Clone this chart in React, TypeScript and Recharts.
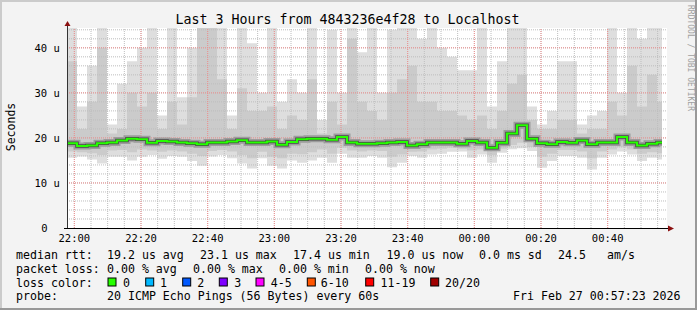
import React from 'react';
import { ComposedChart, Area, Line, XAxis, YAxis, ReferenceLine, CartesianGrid } from 'recharts';

// one value per 3 minute slot, starting 21:57:48
const slotMinutes = 3;

const median = [
  18.8, 18.2, 18.3, 18.8, 19.0, 19.4, 19.8, 19.7, 18.9, 19.3,
  19.2, 19.0, 18.8, 18.6, 19.0, 19.0, 19.2, 19.5, 19.0, 19.0,
  19.2, 18.5, 19.1, 19.7, 19.8, 19.8, 19.6, 20.2, 19.0, 18.7,
  18.7, 18.8, 19.0, 19.1, 18.3, 18.6, 19.0, 19.0, 19.0, 18.7,
  19.3, 19.0, 17.8, 18.9, 21.0, 22.8, 19.8, 18.8, 18.6, 19.1,
  18.9, 19.4, 18.6, 19.0, 19.0, 20.2, 19.0, 18.3, 18.7, 19.0,
];

// light smoke top (highest ping), values above 44.4 are clipped
const smokeMax = [
  48, 27, 36, 48, 23, 32, 37, 40, 48, 25,
  48, 29, 40, 48, 48, 48, 25, 48, 41, 30,
  48, 28, 33, 30, 48, 24, 44, 30, 48, 39,
  46, 30, 44, 48, 48, 42, 48, 40, 38, 35,
  35, 48, 27, 37, 48, 48, 27, 23, 26, 37,
  37, 23, 25, 26, 48, 30, 48, 42, 48, 48,
];

// medium smoke top
const smokeMid = [
  37, 22, 28, 40, 21, 22, 30, 27, 30, 22,
  28, 23, 29, 46, 46, 33, 22, 31, 26, 26,
  27, 22, 25, 24, 33, 21, 28, 23, 42, 28,
  26, 24, 30, 33, 36, 28, 28, 26, 26, 25,
  24, 25, 22, 26, 32, 34, 24, 22, 22, 24,
  24, 21, 22, 22, 28, 25, 36, 27, 34, 28,
];

// medium smoke bottom
const smokeMidLow = [
  17.0, 16.8, 16.6, 16.2, 17.2, 17.3, 16.8, 17.4, 17.2, 16.9,
  17.2, 17.0, 16.5, 16.0, 17.1, 17.3, 17.0, 16.2, 15.5, 16.9,
  15.8, 15.5, 16.5, 16.4, 16.8, 17.4, 16.5, 17.8, 17.2, 17.0,
  17.2, 17.1, 15.8, 16.3, 16.9, 17.0, 17.4, 17.6, 17.8, 17.6,
  17.2, 17.4, 16.2, 17.6, 18.4, 18.9, 18.0, 15.8, 16.5, 17.3,
  17.3, 17.0, 15.5, 17.0, 17.4, 17.9, 17.4, 16.5, 16.8, 16.6,
];

// light smoke bottom (lowest ping)
const smokeLow = [
  15.6, 15.9, 15.2, 14.3, 15.8, 15.8, 15.0, 15.8, 16.2, 15.4,
  16.0, 15.8, 14.9, 13.8, 15.9, 16.2, 15.5, 14.3, 13.2, 15.5,
  13.8, 13.2, 15.0, 14.5, 15.0, 15.6, 14.5, 16.5, 15.6, 15.6,
  16.0, 15.6, 13.5, 14.5, 16.0, 15.6, 16.3, 16.5, 16.9, 17.0,
  15.6, 16.3, 14.5, 16.7, 17.5, 17.7, 17.1, 13.4, 14.9, 16.0,
  16.0, 15.6, 13.0, 15.6, 16.3, 17.0, 16.3, 14.9, 15.6, 15.2,
];

const xTickMinutes = [2.2, 22.2, 42.2, 62.2, 82.2, 102.2, 122.2, 142.2, 162.2];
const xTickLabels = ['22:00', '22:20', '22:40', '23:00', '23:20', '23:40', '00:00', '00:20', '00:40'];
const yTicks = [0, 10, 20, 30, 40];

const lossLabels = ['0', '1', '2', '3', '4-5', '6-10', '11-19', '20/20'];
const lossColors = ['#26ff00', '#00b8ff', '#0059ff', '#7e00ff', '#ff00ff', '#ff5500', '#ff0000', '#a00000'];

const rows = median.map((m, i) => ({
  t: i * slotMinutes,
  med: m,
  light: [smokeLow[i], smokeMax[i]],
  mid: [smokeMidLow[i], smokeMid[i]],
}));
// close the last step where the data ends
const last = rows[rows.length - 1];
rows.push({ ...last, t: 178.5 });

const minorX: number[] = [];
for (let t = 2.2; t < 180; t += 5) minorX.push(t);
const minorY: number[] = [];
for (let v = 2; v < 44.4; v += 2) minorY.push(v);
const majorY = [10, 20, 30, 40];

const mono = '"DejaVu Sans Mono", monospace';

const XTick = (props: any) => {
  const idx = xTickMinutes.indexOf(props.payload.value);
  return (
    <text x={props.x} y={238} dominantBaseline="central" textAnchor="middle" fontSize={10.5} fontFamily={mono} fill="#000">
      {xTickLabels[idx]}
    </text>
  );
};

const YTick = (props: any) => {
  const v = props.payload.value;
  return (
    <text x={v === 0 ? 47.5 : 59.8} y={props.y} dominantBaseline="central" textAnchor="end" fontSize={10.5} fontFamily={mono} fill="#000">
      {v === 0 ? '0' : `${v} u`}
    </text>
  );
};

const legendLines = [
  { y: 255, items: [[16, 'median rtt:'], [107, '19.2 us avg'], [200, '23.1 us max'], [293, '17.4 us min'], [386.5, '19.0 us now'], [479, '0.0 ms sd'], [558, '24.5'], [607, 'am/s']] },
  { y: 268.5, items: [[16, 'packet loss:'], [107, '0.00 % avg'], [193, '0.00 % max'], [279, '0.00 % min'], [365, '0.00 % now']] },
  { y: 282.5, items: [[16, 'loss color:']] },
  { y: 296, items: [[16, 'probe:'], [107, '20 ICMP Echo Pings (56 Bytes) every 60s'], [513, 'Fri Feb 27 00:57:23 2026']] },
];
const boxX = [108, 145.7, 182.7, 219.3, 256, 307.3, 365.7, 430.7];
const labelX = [123, 160, 197.3, 234.3, 270.7, 320.7, 380.5, 445];

export default function App() {
  return (
    <div style={{ position: 'relative', width: 697, height: 310, background: '#f3f3f3' }}>
      <style>{'body{margin:0}'}</style>
      <ComposedChart
        width={697}
        height={310}
        data={rows}
        margin={{ top: 28, right: 30, bottom: 52, left: 0 }}
        style={{ position: 'absolute', left: 0, top: 0 }}
      >
        <CartesianGrid fill="#ffffff" horizontal={false} vertical={false} />
        <XAxis type="number" dataKey="t" domain={[0, 180]} ticks={xTickMinutes} interval={0} height={30} axisLine={false} tickLine={false} tick={XTick} />
        <YAxis type="number" domain={[0, 44.4]} allowDataOverflow ticks={yTicks} width={67} axisLine={false} tickLine={false} tick={YTick} />
        <Area type="stepAfter" dataKey="light" stroke="none" fill="#dedede" fillOpacity={1} isAnimationActive={false} />
        <Area type="stepAfter" dataKey="mid" stroke="none" fill="#cbcbcb" fillOpacity={1} isAnimationActive={false} />
        {minorX.map((t) => (
          <ReferenceLine key={'mx' + t} x={t} stroke="#bdbdbd" strokeDasharray="1 1" />
        ))}
        {minorY.map((v) => (
          <ReferenceLine key={'my' + v} y={v} stroke="#bdbdbd" strokeDasharray="1 1" />
        ))}
        {xTickMinutes.map((t) => (
          <ReferenceLine key={'MX' + t} x={t} stroke="#ef8f8f" strokeDasharray="1 1" />
        ))}
        {majorY.map((v) => (
          <ReferenceLine key={'MY' + v} y={v} stroke="#ef8f8f" strokeDasharray="1 1" />
        ))}
        <Line type="stepAfter" dataKey="med" stroke="#9c9c9c" strokeWidth={7} dot={false} isAnimationActive={false} />
        <Line type="stepAfter" dataKey="med" stroke="#474747" strokeWidth={3.5} dot={false} isAnimationActive={false} />
        <Line type="stepAfter" dataKey="med" stroke="#26ff00" strokeWidth={2} dot={false} isAnimationActive={false} />
      </ComposedChart>
      <svg width={697} height={310} style={{ position: 'absolute', left: 0, top: 0, pointerEvents: 'none' }}>
        <line x1={0} y1={1} x2={697} y2={1} stroke="#cbcbcb" strokeWidth={2} />
        <line x1={1} y1={0} x2={1} y2={310} stroke="#cbcbcb" strokeWidth={2} />
        <line x1={0} y1={309} x2={697} y2={309} stroke="#999" strokeWidth={2} />
        <line x1={696} y1={0} x2={696} y2={310} stroke="#999" strokeWidth={2} />
        <line x1={67.5} y1={25} x2={67.5} y2={229} stroke="#333" strokeWidth={1} />
        <line x1={64} y1={228.5} x2={669} y2={228.5} stroke="#000" strokeWidth={1} />
        <polygon points="64.5,26 70.5,26 67.5,21" fill="#8b1010" />
        <polygon points="668,225.5 668,231.5 674,228.5" fill="#8b1010" />
        <text x={347.5} y={19.5} textAnchor="middle" dominantBaseline="central" fontSize={13.3} fontFamily={mono} fill="#000">
          Last 3 Hours from 4843236e4f28 to Localhost
        </text>
        <text x={11} y={127} transform="rotate(-90 11 127)" textAnchor="middle" dominantBaseline="central" fontSize={11.5} fontFamily={mono} fill="#000">
          Seconds
        </text>
        <text x={688} y={5} transform="rotate(90 688 5)" fontSize={8} fontFamily={mono} fill="#a0a0a0">
          RRDTOOL / TOBI OETIKER
        </text>
        {legendLines.map((ln) =>
          ln.items.map(([x, s]) => (
            <text key={ln.y + '-' + x} x={x as number} y={ln.y} dominantBaseline="central" fontSize={11.6} fontFamily={mono} fill="#000">
              {s}
            </text>
          ))
        )}
        {lossLabels.map((lab, i) => (
          <g key={lab}>
            <rect x={boxX[i]} y={278} width={8} height={8} fill={lossColors[i]} stroke="#000" strokeWidth={1} />
            <text x={labelX[i]} y={282.5} dominantBaseline="central" fontSize={11.6} fontFamily={mono} fill="#000">
              {lab}
            </text>
          </g>
        ))}
      </svg>
    </div>
  );
}
